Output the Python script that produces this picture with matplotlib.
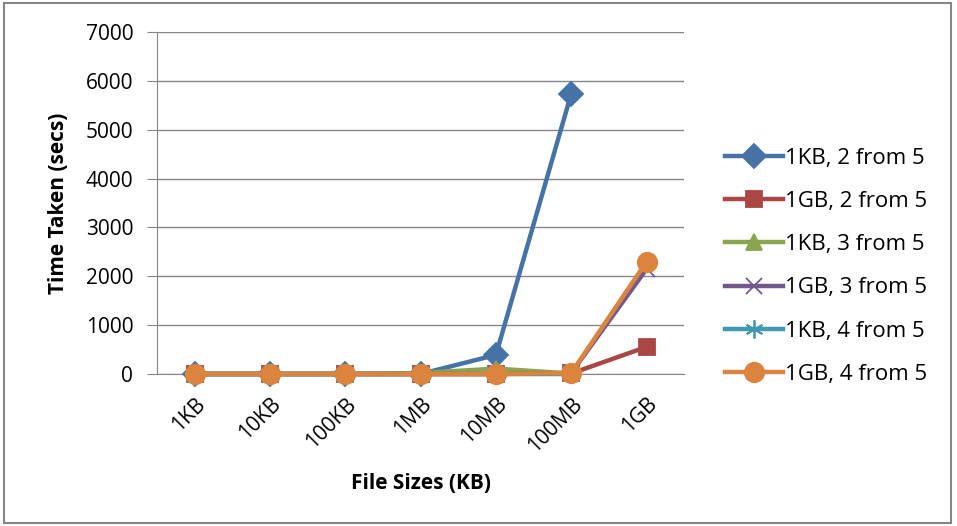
import numpy as np
import matplotlib.pyplot as plt
from matplotlib.patches import Rectangle

plt.rcParams['font.family'] = ['Open Sans', 'DejaVu Sans']

sizes = ['1KB', '10KB', '100KB', '1MB', '10MB', '100MB', '1GB']

# time taken in secs, None where the run was not done
kb_2of5 = [0, 0, 0, 0, 390, 5740, None]
gb_2of5 = [0, 0, 0, 0, 0, 10, 555]
kb_3of5 = [0, 0, 0, 20, 110, 10, None]
gb_3of5 = [0, 0, 0, 0, 0, 20, 2150]
kb_4of5 = [0, 0, 0, 0, 0, 0, None]
gb_4of5 = [0, 0, 0, 0, 0, 20, 2300]

series = [
    ('1KB, 2 from 5', kb_2of5, '#4572a7', 'D', 12),
    ('1GB, 2 from 5', gb_2of5, '#aa4643', 's', 12),
    ('1KB, 3 from 5', kb_3of5, '#89a54e', '^', 12),
    ('1GB, 3 from 5', gb_3of5, '#71588f', 'x', 12),
    ('1KB, 4 from 5', kb_4of5, '#4198af', (6, 2, 0), 13),
    ('1GB, 4 from 5', gb_4of5, '#db843d', 'o', 14),
]

fig = plt.figure(figsize=(9.57, 5.26), dpi=100)
ax = fig.add_axes([0.164, 0.289, 0.551, 0.65])

x = np.arange(len(sizes))
for label, vals, col, mk, ms in series:
    y = np.array([np.nan if v is None else v for v in vals], dtype=float)
    ax.plot(x, y, color=col, lw=3.2, marker=mk, markersize=ms, mew=1.3,
            label=label, clip_on=False, zorder=3)

ax.set_xlim(-0.5, len(sizes) - 0.5)
ax.set_ylim(0, 7000)
ax.set_yticks(np.arange(0, 7001, 1000))
ax.set_xticks(x)
ax.set_xticklabels(sizes, rotation=45, ha='right', rotation_mode='anchor')
ax.tick_params(axis='x', length=0, pad=14, labelsize=15)
ax.tick_params(axis='y', length=7, color='#868686', labelsize=15, pad=10)
ax.grid(axis='y', color='#868686', lw=1)
ax.set_axisbelow(True)
for s in ['top', 'right']:
    ax.spines[s].set_visible(False)
ax.spines['left'].set_color('#868686')
ax.spines['bottom'].set_color('#868686')

ax.set_xlabel('File Sizes (KB)', fontsize=15, fontweight='bold', labelpad=12)
ax.set_ylabel('Time Taken (secs)', fontsize=15, fontweight='bold', labelpad=12)

ax.legend(loc='center left', bbox_to_anchor=(1.04, 0.315), frameon=False,
          fontsize=16, labelspacing=1.0, handlelength=2.6, handletextpad=0.1)

# outer chart border
fig.patches.append(Rectangle((0.004, 0.006), 0.99, 0.988, transform=fig.transFigure,
                             fill=False, edgecolor='#868686', lw=1.5))

fig.savefig('out.png', dpi=100)
